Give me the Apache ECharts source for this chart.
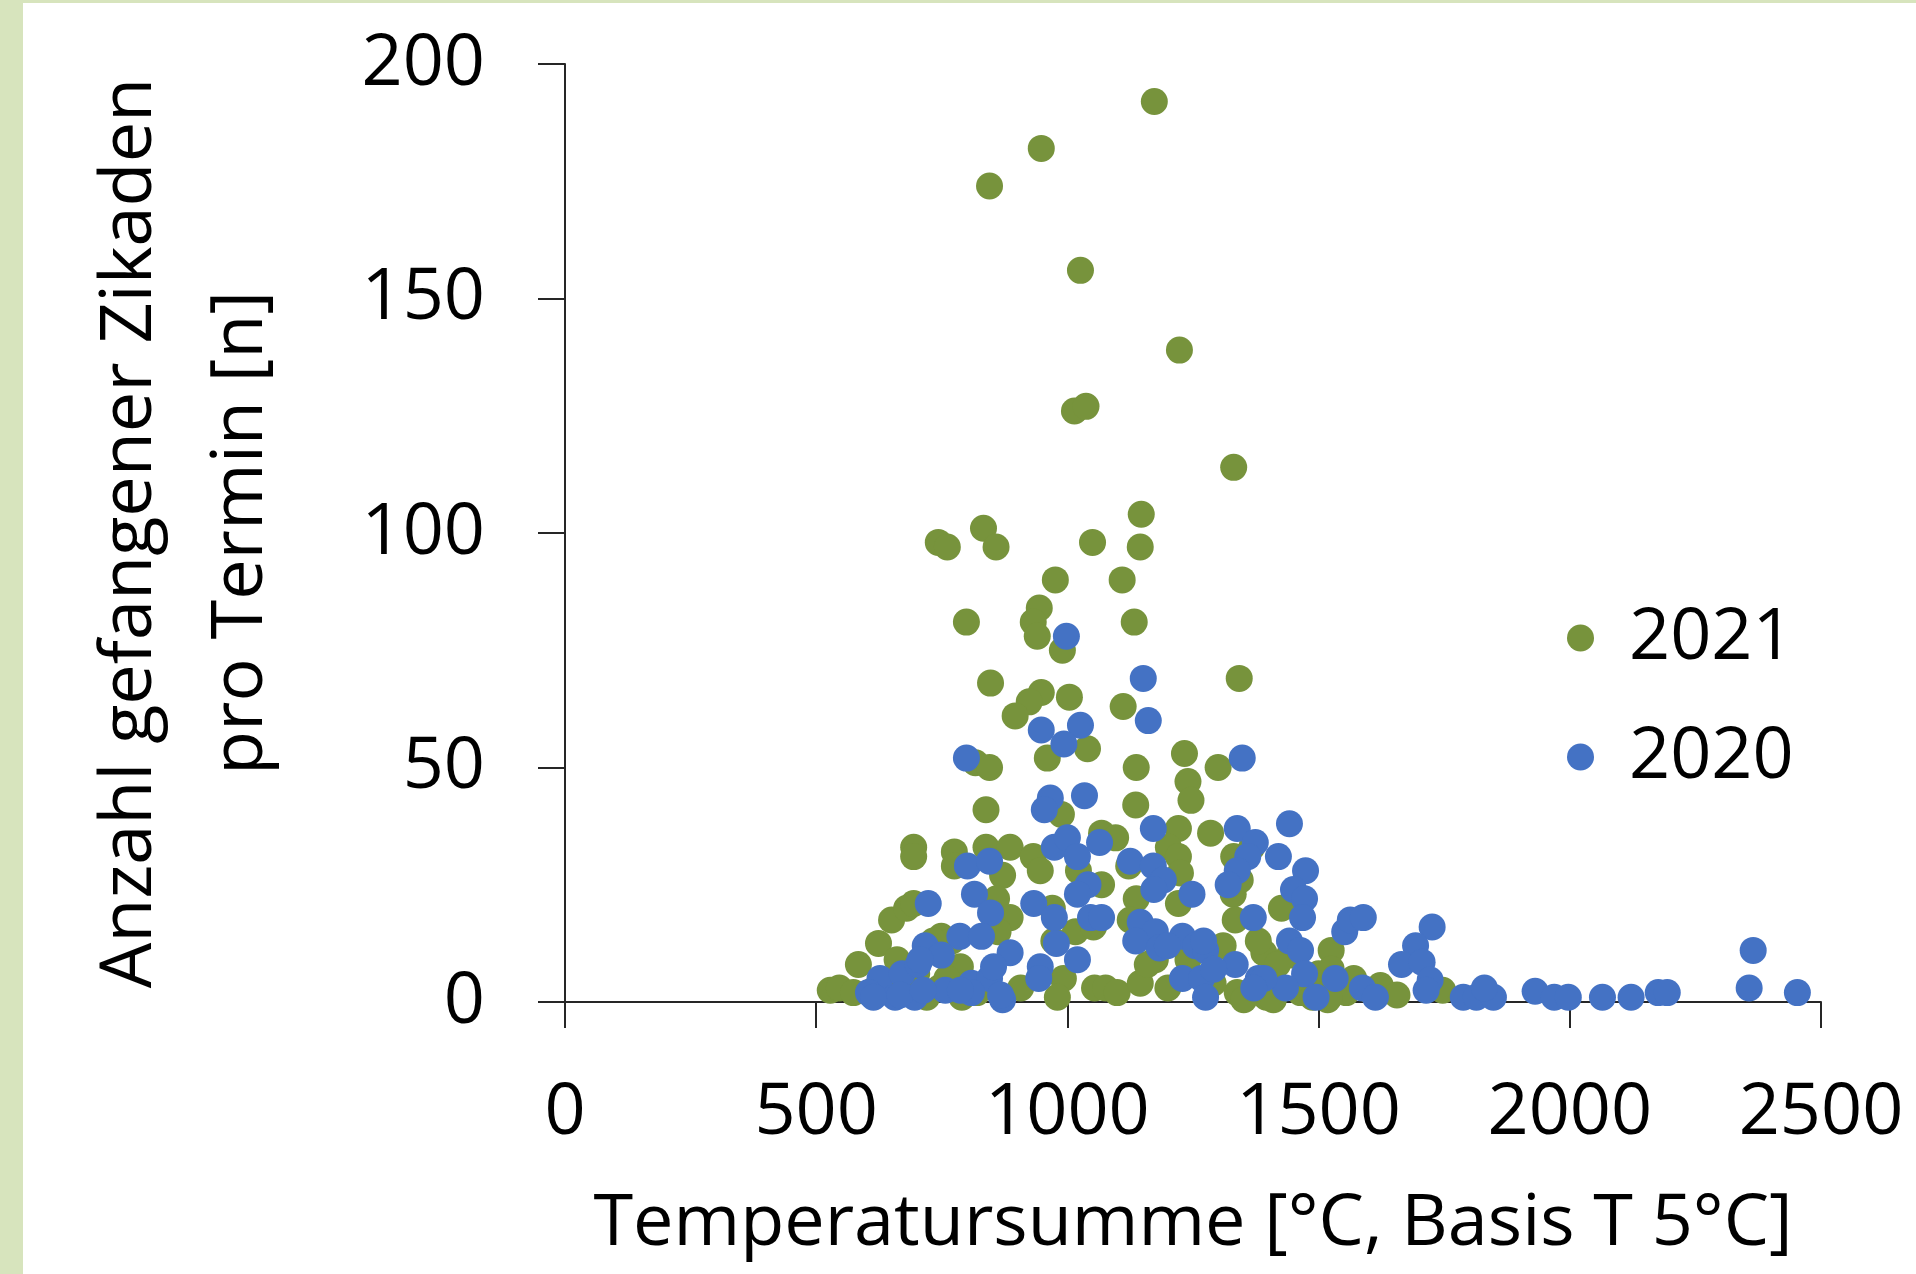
<!DOCTYPE html>
<html>
<head>
<meta charset="utf-8">
<script src="https://cdn.jsdelivr.net/npm/echarts@6/dist/echarts.min.js"></script>
<style>
  html, body { margin: 0; padding: 0; background: #fff; }
  #chart { width: 1916px; height: 1274px; }
</style>
</head>
<body>
<div id="chart"></div>
<script>
// 2021: Temperatursumme / Anzahl Zikaden
const temp2021 = [
  1173, 948, 845, 1026, 1223, 1014, 1037, 1331, 1147, 833, 743, 761, 858, 1050, 1145,
  976, 1109, 799, 944, 932, 940, 1133, 990, 1342, 847, 948, 924, 896, 1004, 1111,
  1040, 960, 1137, 817, 845, 1233, 1300, 1240, 1246, 838, 988, 1136,
  694, 694, 775, 775, 838, 886, 932, 946, 1022, 1068, 1096, 1122, 1221, 1285, 1201, 1221,
  1331, 1367, 871, 859, 1068, 1137, 1137, 1221, 1328, 1330, 1334, 1426, 1344, 650, 680, 694,
  624, 584, 528, 546, 886, 970, 1016, 749, 862, 992, 980, 1054, 1076, 1099, 1145, 1175,
  1396, 1442, 1464, 1488, 1525, 1555, 1601, 1225, 1125, 973, 1052, 1159, 787, 907, 1338,
  770, 661, 733, 574, 614, 1391, 1418, 1500, 1570, 1623, 1656, 1747, 1351, 1410, 1518,
  1525, 1521, 640, 690, 720, 745, 790, 820, 700, 760, 1290, 1200, 1240, 1310, 1380
];
const count2021 = [
  192, 182, 174, 156, 139, 126, 127, 114, 104, 101, 98, 97, 97, 98, 97,
  90, 90, 81, 84, 81, 78, 81, 75, 69, 68, 66, 64, 61, 65, 63,
  54, 52, 50, 51, 50, 53, 50, 47, 43, 41, 40, 42,
  33, 31, 32, 29, 33, 33, 31, 28, 28, 36, 35, 29, 37, 36, 33, 31,
  31, 33, 27, 22, 25, 22, 17, 21, 25, 23, 17.5, 20, 26, 17.5, 20, 21,
  12.5, 8, 2.5, 3, 18, 20, 15, 14, 15, 5, 1, 3, 3, 2, 4, 9,
  1, 10, 2, 1, 11, 2, 2.5, 27.5, 17.5, 13, 16, 8, 7.5, 3, 2,
  13, 9, 13, 2, 2.5, 10.5, 8, 6, 5, 3.5, 1.5, 2.5, 0.5, 0.5, 0.5,
  7, 1, 3, 2, 1, 3, 1, 2, 6, 5, 4, 3, 9, 12, 13
];

// 2020
const temp2020 = [
  998, 1151, 1161, 948, 1026, 993, 799, 1348, 966, 954, 1034, 1171, 1338, 1374, 1442,
  974, 1000, 1020, 1064, 1420, 1359, 801, 845, 1125, 1171, 1474, 1191, 1338, 1320, 815,
  1041, 1020, 1450, 1472, 723, 933, 1370, 1468, 847, 974, 1046, 1068, 1145, 1175, 1442,
  1464, 786, 829, 978, 1136, 1183, 1229, 1255, 1275, 1552, 1563, 1589, 717, 749, 886,
  1020, 1334, 1472, 946, 943, 627, 671, 703, 809, 845, 871, 1229, 1267, 1380, 1434,
  1275, 1495, 1533, 1587, 604, 657, 696, 757, 809, 867, 1726, 1693, 1665, 1706, 1722,
  1714, 1613, 1788, 1814, 1848, 1830, 1931, 1969, 1997, 2065, 2122, 2176, 2194, 2365, 2357,
  2453, 1391, 1371, 614, 667, 713, 707, 1291, 853, 787, 1172, 1248, 1271, 1199
];
const count2020 = [
  78, 69, 60, 58, 59, 55, 52, 52, 43.5, 41, 44, 37, 37, 34, 38,
  33, 35, 31, 34, 31, 31, 29, 30, 30, 29, 28, 26, 28, 25, 23,
  25, 23, 24, 22, 21, 21, 18, 18, 19, 18, 18, 18, 17, 15, 13,
  11, 14, 14, 12.5, 13, 11.5, 14, 12, 11, 15, 17.5, 18, 12, 10, 10.5,
  9, 8, 6, 7.5, 5, 5, 6, 8, 4, 5, 0.5, 5, 5, 5, 3,
  1, 1, 5, 3, 2, 1, 1, 2.5, 2, 1.5, 16, 12, 8, 8.5, 4.7,
  2.5, 1, 1, 1, 1, 3, 2.3, 1, 1, 1, 1, 2, 2, 11, 3,
  2, 5, 3, 1, 1.5, 2.5, 9, 7, 7.5, 2.5, 24, 23, 13, 12
];

const xTicks = [0, 500, 1000, 1500, 2000, 2500];
const yTicks = [0, 50, 100, 150, 200];

const font = '"Open Sans", "Noto Sans", sans-serif';
const axisColor = '#262626';

function pairs(xs, ys) {
  return xs.map((x, i) => [x, ys[i]]);
}

const chart = echarts.init(document.getElementById('chart'));

const option = {
  backgroundColor: '#fff',
  animation: false,
  textStyle: { fontFamily: font, color: '#000' },
  graphic: [
    // hellgruener Rahmen links und oben
    { type: 'rect', left: 0, top: 0, shape: { width: 23, height: 1274 }, style: { fill: '#d7e4bd' }, silent: true },
    { type: 'rect', left: 0, top: 0, shape: { width: 1916, height: 3 }, style: { fill: '#d7e4bd' }, silent: true }
  ],
  grid: { left: 565, top: 64, width: 1256, height: 938, containLabel: false },
  legend: {
    orient: 'vertical',
    left: 1562,
    top: 597,
    itemWidth: 27,
    itemHeight: 27,
    itemGap: 47,
    data: ['2021', '2020'],
    textStyle: { fontFamily: font, fontSize: 72, lineHeight: 72, color: '#000', padding: [0, 0, 0, 30] }
  },
  xAxis: {
    type: 'value',
    min: xTicks[0],
    max: xTicks[xTicks.length - 1],
    interval: 500,
    name: 'Temperatursumme [°C, Basis T 5°C]',
    nameLocation: 'middle',
    nameGap: 222,
    nameTextStyle: { fontFamily: font, fontSize: 72, color: '#000', verticalAlign: 'middle' },
    axisLine: { lineStyle: { color: axisColor, width: 2 } },
    axisTick: { show: true, inside: false, length: 26, lineStyle: { color: axisColor, width: 2 } },
    axisLabel: {
      fontFamily: font, fontSize: 72, lineHeight: 72, color: '#000', margin: 75,
      formatter: v => String(v)
    },
    splitLine: { show: false }
  },
  yAxis: {
    type: 'value',
    min: yTicks[0],
    max: yTicks[yTicks.length - 1],
    interval: 50,
    name: 'Anzahl gefangener Zikaden\npro Termin [n]',
    nameLocation: 'middle',
    nameRotate: 90,
    nameGap: 379,
    nameTextStyle: { fontFamily: font, fontSize: 72, lineHeight: 111, color: '#000', align: 'center', verticalAlign: 'middle' },
    axisLine: { show: true, lineStyle: { color: axisColor, width: 2 } },
    axisTick: { show: true, inside: false, length: 27, lineStyle: { color: axisColor, width: 2 } },
    axisLabel: { fontFamily: font, fontSize: 72, lineHeight: 72, color: '#000', margin: 80 },
    splitLine: { show: false }
  },
  series: [
    {
      name: '2021',
      type: 'scatter',
      symbol: 'circle',
      symbolSize: 27,
      itemStyle: { color: '#77933c', opacity: 1 },
      data: pairs(temp2021, count2021)
    },
    {
      name: '2020',
      type: 'scatter',
      symbol: 'circle',
      symbolSize: 27,
      itemStyle: { color: '#4472c4', opacity: 1 },
      data: pairs(temp2020, count2020)
    }
  ]
};

chart.setOption(option);
</script>
</body>
</html>
